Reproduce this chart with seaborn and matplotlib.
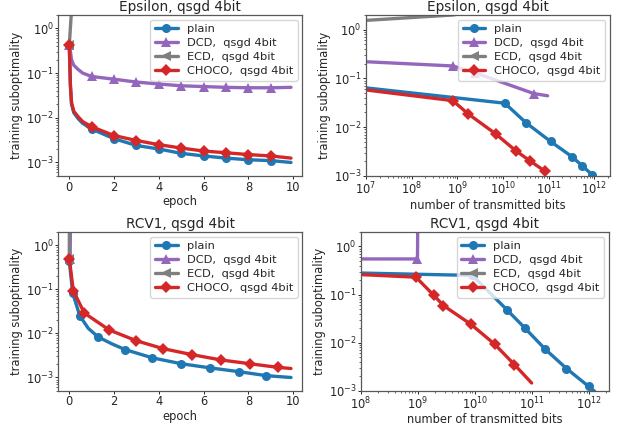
import pandas as pd
import seaborn as sns
import matplotlib.pyplot as plt
from matplotlib.ticker import MultipleLocator, LogLocator

# ---- Epsilon, suboptimality vs epoch ----
eps_ep_plain_x = [0, 0.05, 0.1, 0.2, 0.4, 0.6, 1, 2, 3, 4, 5, 6, 7, 8, 9, 9.9]
eps_ep_plain_y = [0.42, 0.05, 0.02, 0.013, 0.0095, 0.0075, 0.0056, 0.0034, 0.0024,
                  0.002, 0.0016, 0.0014, 0.00125, 0.00115, 0.0011, 0.001]
eps_ep_dcd_x = [0, 0.05, 0.1, 0.2, 0.4, 0.6, 1, 2, 3, 4, 5, 6, 7, 8, 9, 9.9]
eps_ep_dcd_y = [0.42, 0.3, 0.2, 0.15, 0.12, 0.1, 0.084, 0.073, 0.063, 0.057,
                0.052, 0.05, 0.048, 0.047, 0.047, 0.048]
eps_ep_ecd_x = [0, 0.1]
eps_ep_ecd_y = [0.42, 2.6]
eps_ep_choco_x = [0, 0.05, 0.1, 0.2, 0.4, 0.6, 1, 2, 3, 4, 5, 6, 7, 8, 9, 9.9]
eps_ep_choco_y = [0.42, 0.055, 0.022, 0.014, 0.0105, 0.0082, 0.0063, 0.004, 0.0031,
                  0.0025, 0.0021, 0.0018, 0.00165, 0.0015, 0.0014, 0.00125]
eps_ep_marks = [0, 6, 7, 8, 9, 10, 11, 12, 13, 14]

# ---- Epsilon, suboptimality vs transmitted bits ----
eps_b_plain_x = [1e7, 1.1e10, 3.2e10, 1.1e11, 3.2e11, 5.5e11, 9e11, 1.2e12]
eps_b_plain_y = [0.064, 0.031, 0.0123, 0.0051, 0.0025, 0.0016, 0.00105, 0.0008]
eps_b_plain_marks = [1, 2, 3, 4, 5, 6]
eps_b_dcd_x = [1e7, 8e8, 2.5e9, 4.7e10, 9.5e10]
eps_b_dcd_y = [0.22, 0.18, 0.13, 0.049, 0.044]
eps_b_dcd_marks = [1, 2, 3]
eps_b_ecd_x = [1e7, 8e8, 1.5e9]
eps_b_ecd_y = [1.55, 2.0, 2.2]
eps_b_ecd_marks = []
eps_b_choco_x = [1e7, 8e8, 1.7e9, 6.9e9, 1.9e10, 4e10, 8.2e10]
eps_b_choco_y = [0.058, 0.035, 0.019, 0.0073, 0.0033, 0.002, 0.00126]
eps_b_choco_marks = [1, 2, 3, 4, 5, 6]

# ---- RCV1, suboptimality vs epoch ----
rcv_ep_plain_x = [0, 0.15, 0.47, 0.85, 1.29, 1.9, 2.49, 3.7, 5.0, 6.3, 7.6, 8.8, 9.9]
rcv_ep_plain_y = [0.45, 0.083, 0.025, 0.013, 0.0083, 0.0058, 0.0043, 0.0028,
                  0.00205, 0.00165, 0.00135, 0.0011, 0.001]
rcv_ep_plain_marks = [0, 1, 2, 4, 6, 7, 8, 9, 10, 11]
rcv_ep_dcd_x = [0.04, 0.05]
rcv_ep_dcd_y = [0.5, 3.0]
rcv_ep_ecd_x = [0.0, 0.005]
rcv_ep_ecd_y = [0.5, 3.0]
rcv_ep_choco_x = [0, 0.18, 0.67, 1.78, 3.0, 4.2, 5.48, 6.77, 8.07, 9.3, 9.9]
rcv_ep_choco_y = [0.5, 0.093, 0.029, 0.012, 0.0068, 0.0045, 0.0033, 0.0025,
                  0.00205, 0.0017, 0.0016]
rcv_ep_choco_marks = [0, 1, 2, 3, 4, 5, 6, 7, 8, 9]

# ---- RCV1, suboptimality vs transmitted bits ----
rcv_b_plain_x = [1e8, 9e9, 3.7e10, 7.5e10, 1.7e11, 4e11, 9.8e11, 1.25e12]
rcv_b_plain_y = [0.28, 0.25, 0.047, 0.02, 0.0073, 0.0029, 0.00123, 0.00097]
rcv_b_plain_marks = [1, 2, 3, 4, 5, 6]
rcv_b_dcd_x = [1e8, 9.8e8, 9.9e8]
rcv_b_dcd_y = [0.55, 0.55, 3.0]
rcv_b_dcd_marks = [1]
rcv_b_ecd_x = [1e8, 1e9]
rcv_b_ecd_y = [4.0, 4.5]
rcv_b_ecd_marks = []
rcv_b_choco_x = [1e8, 9.2e8, 1.9e9, 2.8e9, 8.5e9, 2.2e10, 4.9e10, 9.8e10]
rcv_b_choco_y = [0.26, 0.23, 0.096, 0.059, 0.024, 0.0093, 0.0035, 0.00145]
rcv_b_choco_marks = [1, 2, 3, 4, 5, 6]

names = ["plain", "DCD,  qsgd 4bit", "ECD,  qsgd 4bit", "CHOCO,  qsgd 4bit"]
colors = ["tab:blue", "tab:purple", "tab:gray", "tab:red"]
markers = ["o", "^", "<", "D"]

sns.set_style("ticks")
plt.rcParams.update({
    "font.family": ["DejaVu Sans"],
    "axes.edgecolor": "0.35",
    "axes.linewidth": 0.9,
    "xtick.major.size": 2.2, "ytick.major.size": 2.2,
    "xtick.minor.size": 1.3, "ytick.minor.size": 1.3,
    "xtick.major.width": 0.7, "ytick.major.width": 0.7,
    "xtick.minor.width": 0.5, "ytick.minor.width": 0.5,
    "xtick.major.pad": 1.2, "ytick.major.pad": 0.8,
    "xtick.labelsize": 8.3, "ytick.labelsize": 8.3,
    "axes.labelsize": 8.3, "axes.titlesize": 9.8,
    "legend.fontsize": 8.2,
})


def draw(ax, series, title, xlabel, xlim, ylim, xlog):
    for (x, y, marks), name, c, m in zip(series, names, colors, markers):
        df = pd.DataFrame({"x": x, "y": y})
        sns.lineplot(data=df, x="x", y="y", ax=ax, color=c, marker=m, label=name,
                     markevery=marks, markersize=6.5, linewidth=2.4,
                     markeredgewidth=0, sort=False, estimator=None)
    ax.set_yscale("log")
    if xlog:
        ax.set_xscale("log")
        ax.xaxis.set_major_locator(LogLocator(base=10, numticks=20))
        ax.xaxis.set_minor_locator(LogLocator(base=10, subs=range(2, 10), numticks=20))
    else:
        ax.xaxis.set_major_locator(MultipleLocator(2))
    ax.set_xlim(*xlim)
    ax.set_ylim(*ylim)
    ax.set_title(title, pad=3)
    ax.set_xlabel(xlabel, labelpad=1)
    ax.set_ylabel("training suboptimality", labelpad=2)
    ax.legend(loc="upper right", borderaxespad=0.4, handlelength=2.0,
              labelspacing=0.35)


fig = plt.figure(figsize=(6.18, 4.28), dpi=100)
ax1 = fig.add_axes([0.094, 0.589, 0.395, 0.376])
ax2 = fig.add_axes([0.592, 0.589, 0.395, 0.376])
ax3 = fig.add_axes([0.094, 0.087, 0.395, 0.371])
ax4 = fig.add_axes([0.584, 0.087, 0.401, 0.371])

draw(ax1, [(eps_ep_plain_x, eps_ep_plain_y, eps_ep_marks),
           (eps_ep_dcd_x, eps_ep_dcd_y, eps_ep_marks),
           (eps_ep_ecd_x, eps_ep_ecd_y, [0]),
           (eps_ep_choco_x, eps_ep_choco_y, eps_ep_marks)],
     "Epsilon, qsgd 4bit", "epoch", (-0.5, 10.4), (5e-4, 2), False)
draw(ax2, [(eps_b_plain_x, eps_b_plain_y, eps_b_plain_marks),
           (eps_b_dcd_x, eps_b_dcd_y, eps_b_dcd_marks),
           (eps_b_ecd_x, eps_b_ecd_y, eps_b_ecd_marks),
           (eps_b_choco_x, eps_b_choco_y, eps_b_choco_marks)],
     "Epsilon, qsgd 4bit", "number of transmitted bits", (1e7, 2.2e12), (1e-3, 2), True)
draw(ax3, [(rcv_ep_plain_x, rcv_ep_plain_y, rcv_ep_plain_marks),
           (rcv_ep_dcd_x, rcv_ep_dcd_y, [0]),
           (rcv_ep_ecd_x, rcv_ep_ecd_y, [0]),
           (rcv_ep_choco_x, rcv_ep_choco_y, rcv_ep_choco_marks)],
     "RCV1, qsgd 4bit", "epoch", (-0.5, 10.4), (5e-4, 2), False)
draw(ax4, [(rcv_b_plain_x, rcv_b_plain_y, rcv_b_plain_marks),
           (rcv_b_dcd_x, rcv_b_dcd_y, rcv_b_dcd_marks),
           (rcv_b_ecd_x, rcv_b_ecd_y, rcv_b_ecd_marks),
           (rcv_b_choco_x, rcv_b_choco_y, rcv_b_choco_marks)],
     "RCV1, qsgd 4bit", "number of transmitted bits", (1e8, 2.2e12), (1e-3, 2), True)

fig.savefig("out.png", dpi=100)
